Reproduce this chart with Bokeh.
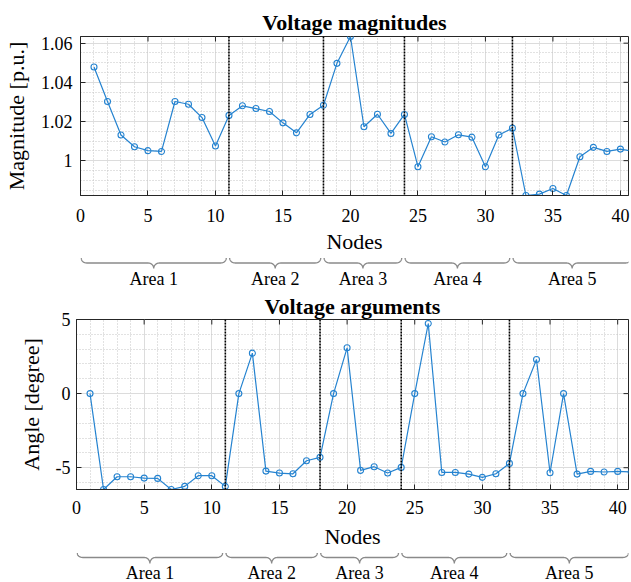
import numpy as np
from bokeh.plotting import figure
from bokeh.models import Range1d, FixedTicker, Span, NumeralTickFormatter
from bokeh.layouts import column
from bokeh.embed import file_html
from bokeh.resources import INLINE
from bokeh.core.properties import value

# ---------------- data ----------------
nodes = list(range(1, 42))
magnitude = [1.0478, 1.0302, 1.0131, 1.0071, 1.0051, 1.0047, 1.0302, 1.0288, 1.0220, 1.0075,
             1.0231, 1.0280, 1.0266, 1.0251, 1.0193, 1.0142, 1.0236, 1.0283, 1.0497, 1.0634,
             1.0173, 1.0237, 1.0139, 1.0236, 0.9969, 1.0122, 1.0095, 1.0132, 1.0120, 0.9969,
             1.0131, 1.0166, 0.9822, 0.9829, 0.9858, 0.9822, 1.0020, 1.0068, 1.0047, 1.0059, 1.0047]
angle = [0, -6.47, -5.61, -5.61, -5.70, -5.72, -6.47, -6.26, -5.54, -5.54,
         -6.26, 0, 2.73, -5.23, -5.36, -5.41, -4.53, -4.30, 0, 3.09,
         -5.18, -4.93, -5.36, -4.98, 0, 4.73, -5.32, -5.32, -5.43, -5.65,
         -5.41, -4.71, 0, 2.30, -5.34, 0, -5.43, -5.25, -5.29, -5.25, -5.29]
area_labels = ["Area 1", "Area 2", "Area 3", "Area 4", "Area 5"]
area_bounds = [0, 11, 18, 24, 32, 41]
x_ticks = [0, 5, 10, 15, 20, 25, 30, 35, 40]
mag_ticks = [1.0, 1.02, 1.04, 1.06]
ang_ticks = [-5, 0, 5]

SERIF = "Liberation Serif"
AX = "#262626"
BLUE = "#2583d0"
W = 631
RIGHT = 3


def make_plot(title, ylabel, ydata, yr, yticks, yminor, xend, left, top, bottom, height,
              ylab_standoff, xlab_standoff, xtick_standoff, ytick_standoff, title_standoff):
    p = figure(width=W, height=height, x_range=Range1d(0, xend), y_range=Range1d(*yr),
               output_backend="svg", toolbar_location=None, title=title,
               min_border_left=left, min_border_right=RIGHT,
               min_border_top=top, min_border_bottom=bottom, frame_align=False)
    p.background_fill_color = "white"
    p.border_fill_color = "white"
    p.outline_line_color = AX
    p.title.text_font = SERIF
    p.title.text_font_size = "22px"
    p.title.text_font_style = "bold"
    p.title.align = "center"
    p.title.standoff = title_standoff
    p.title.text_color = "black"

    xt = FixedTicker(ticks=x_ticks, minor_ticks=list(range(0, 42)))
    yt = FixedTicker(ticks=yticks, minor_ticks=yminor)
    p.xaxis.ticker = xt
    p.yaxis.ticker = yt
    p.xgrid.ticker = xt
    p.ygrid.ticker = yt
    for g in (p.xgrid, p.ygrid):
        g.grid_line_color = "#dcdcdc"
        g.grid_line_width = 1
        g.minor_grid_line_color = "#c4c4c4"
        g.minor_grid_line_dash = "1 2"
        g.minor_grid_line_width = 1

    for ax in (p.xaxis, p.yaxis):
        ax.axis_line_color = AX
        ax.major_tick_line_color = AX
        ax.major_tick_in = 5
        ax.major_tick_out = 0
        ax.minor_tick_in = 0
        ax.minor_tick_out = 0
        ax.major_label_text_font = SERIF
        ax.major_label_text_font_size = "18px"
        ax.major_label_text_color = "black"
        ax.axis_label_text_font = SERIF
        ax.axis_label_text_font_size = "22px"
        ax.axis_label_text_font_style = "normal"
        ax.axis_label_text_color = "black"
    p.xaxis.axis_label = "Nodes"
    p.yaxis.axis_label = ylabel
    p.xaxis.major_label_standoff = xtick_standoff
    p.yaxis.major_label_standoff = ytick_standoff
    p.xaxis.axis_label_standoff = xlab_standoff
    p.yaxis.axis_label_standoff = ylab_standoff
    p.yaxis.formatter = NumeralTickFormatter(format="0.[00]")

    # box ticks on the top and right edges (inward, half of a dash is clipped)
    p.scatter(x_ticks, [yr[1]] * len(x_ticks), marker="dash", angle=np.pi / 2, size=10,
              line_color=AX, line_width=1)
    p.scatter([xend] * len(yticks), yticks, marker="dash", size=10,
              line_color=AX, line_width=1)

    for b in area_bounds[1:-1]:
        p.add_layout(Span(location=b, dimension="height", line_color="black",
                          line_dash="2 1", line_width=1.6))

    p.line(nodes, ydata, line_color=BLUE, line_width=1.2)
    p.scatter(nodes, ydata, marker="circle", size=6, fill_color=None,
              line_color=BLUE, line_width=1.1)
    return p


def make_braces(x_range, left, height, y_top, y_mid, y_tip, y_lab):
    b = figure(width=W, height=height, x_range=x_range, y_range=Range1d(height, 0),
               output_backend="svg", toolbar_location=None, frame_align=False,
               min_border_left=left, min_border_right=RIGHT, min_border_top=0, min_border_bottom=0)
    b.axis.visible = False
    b.grid.visible = False
    b.outline_line_color = None
    b.background_fill_color = "white"
    b.border_fill_color = "white"
    frame_w = W - left - RIGHT
    ppu = frame_w / (x_range.end - x_range.start)
    r = 5.5 / ppu
    t = np.linspace(0, np.pi / 2, 14)
    centers = []
    for a0, b0 in zip(area_bounds[:-1], area_bounds[1:]):
        a = a0 + 0.05
        e = b0 - 0.2
        c = (a + e) / 2
        centers.append(c)
        x1 = a + r * (1 - np.cos(t))
        y1 = y_top + (y_mid - y_top) * np.sin(t)
        x2 = c - r + r * np.sin(t)
        y2 = y_mid + (y_tip - y_mid) * (1 - np.cos(t))
        xs = np.concatenate([x1, x2])
        ys = np.concatenate([y1, y2])
        fx = np.concatenate([xs, (2 * c - xs)[::-1]])
        fy = np.concatenate([ys, ys[::-1]])
        b.line(fx, fy, line_color="#8a8a8a", line_width=1.3)
    b.text(x=centers, y=[y_lab] * len(centers), text=area_labels, text_align="center",
           text_baseline="middle", text_font=value(SERIF), text_font_size="18px",
           text_color="black")
    return b


mag_minor = [round(0.980 + 0.005 * i, 3) for i in range(18)]
ang_minor = list(range(-7, 6))

p1 = make_plot("Voltage magnitudes", "Magnitude [p.u.]", magnitude,
               (min(magnitude), max(magnitude)), mag_ticks, mag_minor, 40.6,
               left=80, top=36, bottom=59, height=256,
               ylab_standoff=9, xlab_standoff=4, xtick_standoff=13, ytick_standoff=8,
               title_standoff=3)
b1 = make_braces(p1.x_range, 80, 34, 1.5, 6.5, 12, 22.5)

p2 = make_plot("Voltage arguments", "Angle [degree]", angle,
               (min(angle), 5), ang_ticks, ang_minor, 40.8,
               left=76, top=29, bottom=62, height=261,
               ylab_standoff=9, xlab_standoff=7, xtick_standoff=11, ytick_standoff=6,
               title_standoff=2)
b2 = make_braces(p2.x_range, 76, 31, 1.5, 6, 12, 21)

layout = column(p1, b1, p2, b2, spacing=0)
open("out.html", "w").write(file_html(layout, INLINE))
